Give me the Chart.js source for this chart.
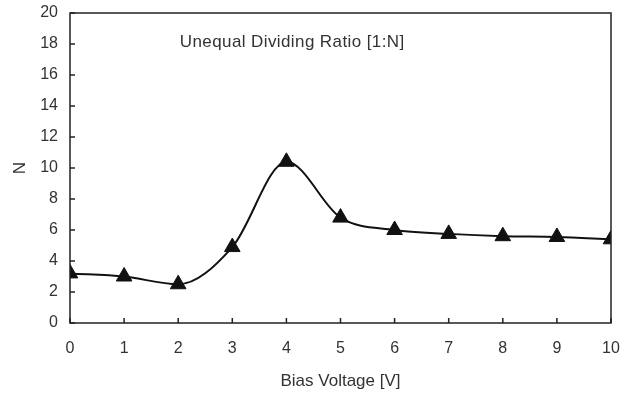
<!DOCTYPE html>
<html>
<head>
<meta charset="utf-8">
<script src="https://cdn.jsdelivr.net/npm/chart.js@4"></script>
<style>
	body { margin: 0; background: #fff; }
	#wrap { width: 634px; height: 394px; }
</style>
</head>
<body>
<div id="wrap"><canvas id="firstChart"></canvas></div>
<script>
const voltage = [0, 1, 2, 3, 4, 5, 6, 7, 8, 9, 10];
const ratioN = [3.2, 3.0, 2.5, 4.9, 10.4, 6.8, 6.0, 5.75, 5.6, 5.55, 5.4];
const yTicks = [0, 2, 4, 6, 8, 10, 12, 14, 16, 18, 20];
const noteText = 'Unequal Dividing Ratio [1:N]';

const font = 'Liberation Sans, Arial, sans-serif';

// inward tick marks, box frame and the note inside the plot
const frame = {
	id: 'frame',
	afterDraw(chart) {
		let c = chart.ctx;
		let a = chart.chartArea;
		let xs = chart.scales.x;
		let ys = chart.scales.y;
		c.save();
		c.strokeStyle = '#222';
		c.lineWidth = 1.5;
		c.strokeRect(a.left, a.top, a.right - a.left, a.bottom - a.top);
		c.beginPath();
		for (let v of voltage) {
			let px = xs.getPixelForValue(v);
			c.moveTo(px, a.bottom);
			c.lineTo(px, a.bottom - 5);
		}
		for (let v of yTicks) {
			let py = ys.getPixelForValue(v);
			c.moveTo(a.left, py);
			c.lineTo(a.left + 5, py);
		}
		c.stroke();
		c.fillStyle = '#333';
		c.font = '17px ' + font;
		c.letterSpacing = '0.4px';
		c.textBaseline = 'middle';
		c.fillText(noteText, xs.getPixelForValue(2.03), ys.getPixelForValue(18.1));
		c.restore();
	}
};

new Chart(document.getElementById('firstChart'), {
	type: 'line',
	data: {
		datasets: [{
			data: voltage.map((v, i) => ({ x: v, y: ratioN[i] })),
			borderColor: '#111',
			backgroundColor: '#111',
			borderWidth: 2,
			cubicInterpolationMode: 'monotone',
			pointStyle: 'triangle',
			pointRadius: 9,
			pointBorderWidth: 1,
			pointBackgroundColor: '#111',
			pointBorderColor: '#111',
		}],
	},
	options: {
		responsive: true,
		maintainAspectRatio: false,
		animation: false,
		layout: { padding: { top: 13, right: 23, left: 8, bottom: 2 } },
		plugins: { legend: { display: false }, tooltip: { enabled: false } },
		scales: {
			x: {
				type: 'linear',
				min: 0,
				max: 10,
				afterFit: (s) => { s.height = 69; },
				grid: { display: false, tickLength: 12 },
				border: { display: false },
				ticks: { stepSize: 1, color: '#333', padding: 4, font: { family: font, size: 16 } },
				title: { display: true, text: 'Bias Voltage [V]', color: '#333', font: { family: font, size: 17 }, padding: { top: 13, bottom: 0 } },
			},
			y: {
				min: 0,
				max: 20,
				afterFit: (s) => { s.width = 62; },
				grid: { display: false, tickLength: 9 },
				border: { display: false },
				ticks: { stepSize: 2, color: '#333', padding: 3, font: { family: font, size: 16 } },
				title: { display: true, text: 'N', color: '#333', font: { family: font, size: 17 }, padding: { top: 2, bottom: 9 } },
			},
		},
	},
	plugins: [frame],
});
</script>
</body>
</html>
